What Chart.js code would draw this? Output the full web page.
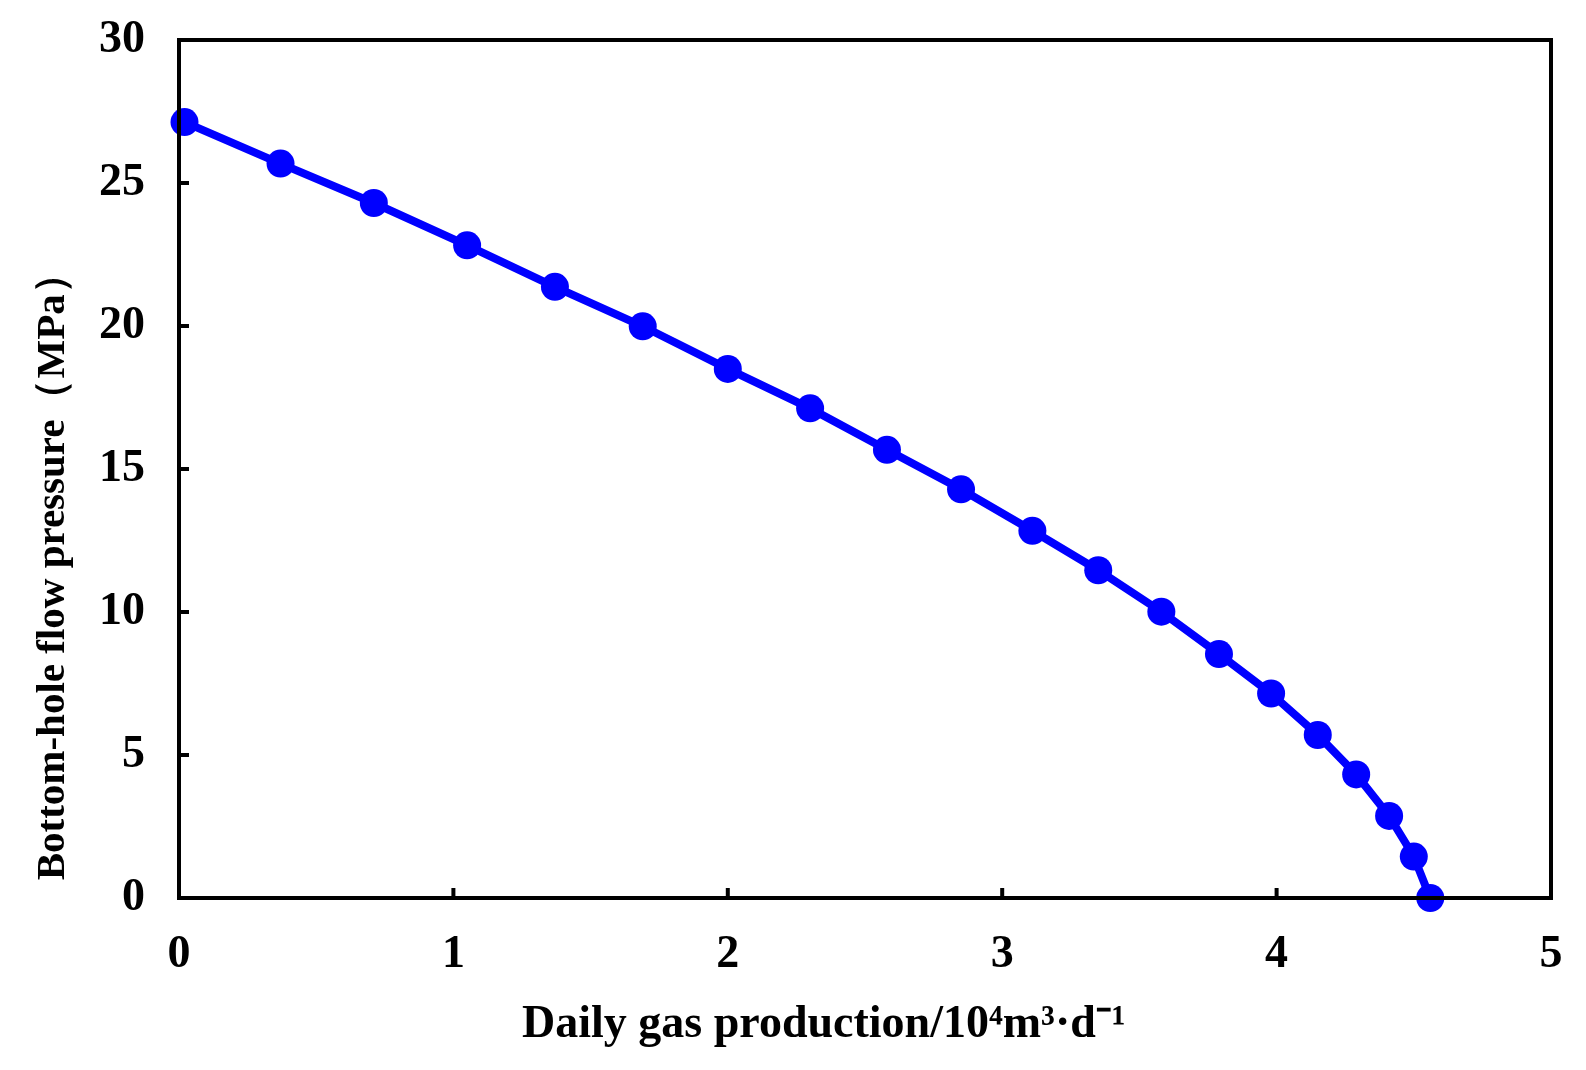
<!DOCTYPE html>
<html>
<head>
<meta charset="utf-8">
<script src="https://cdn.jsdelivr.net/npm/chart.js@4"></script>
<style>
  html, body { margin: 0; padding: 0; background: #fff; }
  #wrap { width: 1586px; height: 1070px; }
</style>
</head>
<body>
<div id="wrap"><canvas id="chart" width="1586" height="1070"></canvas></div>
<script>
// daily gas production (10^4 m3/d)
const gasRate = [0.02, 0.37, 0.71, 1.05, 1.37, 1.69, 2.00, 2.30, 2.58, 2.85,
                 3.11, 3.35, 3.58, 3.79, 3.98, 4.15, 4.29, 4.41, 4.50, 4.56];
// bottom-hole flow pressure (MPa)
const pressure = [27.13, 25.68, 24.30, 22.82, 21.37, 19.99, 18.50, 17.12, 15.67, 14.29,
                  12.84, 11.46, 10.01, 8.53, 7.15, 5.70, 4.32, 2.87, 1.45, 0.00];
const xTicks = [0, 1, 2, 3, 4, 5];
const yTicks = [0, 5, 10, 15, 20, 25, 30];
const xTitle = 'Daily gas production/10⁴m³·d⁻¹';
const yTitle = 'Bottom-hole flow pressure（MPa）';

const points = gasRate.map((x, i) => ({ x: x, y: pressure[i] }));
const font = 'Liberation Serif, "Times New Roman", serif';

// frame around plot area, inward tick marks and the axis titles
const framePlugin = {
  id: 'frame',
  afterDatasetsDraw(chart) {
    const { ctx, chartArea: a, scales } = chart;
    ctx.save();
    ctx.strokeStyle = '#000';
    ctx.lineWidth = 4;
    ctx.beginPath();
    xTicks.forEach(v => {
      const px = scales.x.getPixelForValue(v);
      ctx.moveTo(px, a.bottom);
      ctx.lineTo(px, a.bottom - 10);
    });
    yTicks.forEach(v => {
      const py = scales.y.getPixelForValue(v);
      ctx.moveTo(a.left, py);
      ctx.lineTo(a.left + 10, py);
    });
    ctx.stroke();
    ctx.strokeRect(a.left, a.top, a.right - a.left, a.bottom - a.top);

    ctx.fillStyle = '#000';
    ctx.font = 'bold 46px ' + font;
    ctx.textAlign = 'center';
    ctx.textBaseline = 'middle';
    ctx.fillText(xTitle, a.left + 0.47 * (a.right - a.left), a.bottom + 127);

    ctx.font = 'bold 41px ' + font;
    ctx.translate(53, a.top + 0.614 * (a.bottom - a.top));
    ctx.rotate(-Math.PI / 2);
    ctx.fillText(yTitle, 0, 0);
    ctx.restore();
  }
};

new Chart(document.getElementById('chart'), {
  type: 'scatter',
  data: {
    datasets: [{
      data: points,
      showLine: true,
      borderColor: '#0000ff',
      backgroundColor: '#0000ff',
      borderWidth: 8,
      pointRadius: 14,
      pointHoverRadius: 14,
      pointBorderWidth: 0,
      clip: false
    }]
  },
  options: {
    responsive: false,
    animation: false,
    layout: { padding: { top: 40, right: 35, left: 0, bottom: 0 } },
    plugins: { legend: { display: false }, tooltip: { enabled: false } },
    scales: {
      x: {
        type: 'linear',
        min: 0, max: 5,
        afterBuildTicks: s => { s.ticks = xTicks.map(v => ({ value: v })); },
        afterFit: s => { s.height = 172; s.paddingLeft = 0; s.paddingRight = 0; },
        grid: { display: false, drawTicks: false },
        border: { display: false },
        ticks: { color: '#000', padding: 30, font: { family: font, size: 46, weight: 'bold' } }
      },
      y: {
        type: 'linear',
        min: 0, max: 30,
        afterBuildTicks: s => { s.ticks = yTicks.map(v => ({ value: v })); },
        afterFit: s => { s.width = 179; s.paddingTop = 0; s.paddingBottom = 0; },
        grid: { display: false, drawTicks: false },
        border: { display: false },
        ticks: { color: '#000', padding: 34, font: { family: font, size: 46, weight: 'bold' } }
      }
    }
  },
  plugins: [framePlugin]
});
</script>
</body>
</html>
